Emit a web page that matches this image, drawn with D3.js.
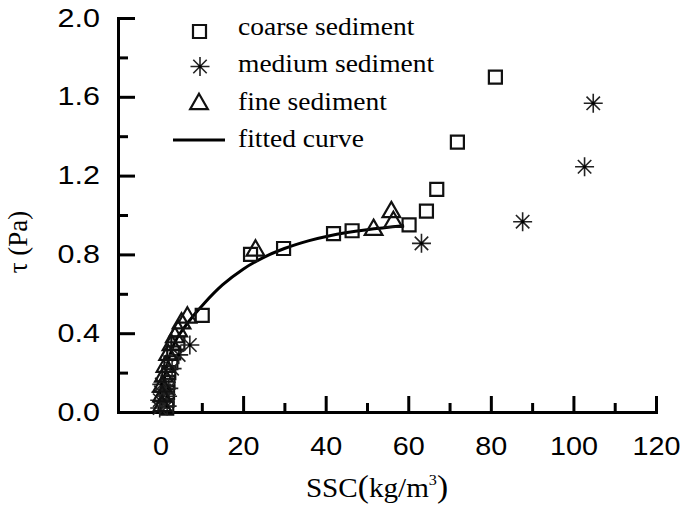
<!DOCTYPE html>
<html>
<head>
<meta charset="utf-8">
<script src="https://d3js.org/d3.v7.min.js"></script>
<style>
body { margin: 0; background: #fff; }
svg { display: block; }
.assi path, .assi line { stroke: #000; stroke-width: 3; }
.assi path { stroke-linecap: square; }
.assi text { font-family: 'Liberation Sans', Arial, sans-serif; font-size: 25px; fill: #000; }
.serif { font-family: 'Liberation Serif', 'Times New Roman', serif; fill: #000; }
</style>
</head>
<body>
<svg id="grafico" width="685" height="505"></svg>
<script>
//punti: [SSC, tau]
var coarseSediment = [[1.5, 0.02], [1.6, 0.06], [1.7, 0.1], [1.8, 0.15], [2.0, 0.2], [2.5, 0.25],
    [3.2, 0.3], [4.2, 0.35], [10.1, 0.49], [21.8, 0.8], [29.8, 0.83], [41.9, 0.905], [46.4, 0.92],
    [60.2, 0.95], [64.4, 1.02], [66.9, 1.13], [71.9, 1.37], [81.1, 1.7]];

var mediumSediment = [[-0.2, 0.02], [-0.2, 0.06], [0.1, 0.1], [0.3, 0.14], [1.6, 0.03], [1.7, 0.08],
    [2.0, 0.12], [2.8, 0.22], [4.4, 0.29], [7.1, 0.34], [63.2, 0.856], [87.7, 0.966],
    [102.7, 1.245], [104.8, 1.567]];

var fineSediment = [[0.4, 0.03], [0.4, 0.08], [0.4, 0.13], [0.8, 0.18], [1.2, 0.23], [1.85, 0.29],
    [2.66, 0.34], [3.47, 0.38], [4.28, 0.41], [5.08, 0.45], [6.5, 0.48], [23.0, 0.82],
    [51.6, 0.925], [55.9, 1.015], [56.4, 0.965]];

var fittedCurve = [[0.15, 0.02], [0.4, 0.07], [0.8, 0.14], [1.2, 0.2], [2.0, 0.27], [2.8, 0.32],
    [4.0, 0.375], [5.6, 0.425], [8.0, 0.49], [10.5, 0.55], [15.0, 0.645], [20.0, 0.725], [25.0, 0.785],
    [30.0, 0.83], [36.0, 0.87], [41.0, 0.895], [50.0, 0.925], [59.0, 0.945]];

var xMajorTicks = [0, 20, 40, 60, 80, 100, 120];
var xMinorTicks = [10, 30, 50, 70, 90, 110];
var yMajorTicks = [0.0, 0.4, 0.8, 1.2, 1.6, 2.0];
var yMinorTicks = [0.2, 0.6, 1.0, 1.4, 1.8];
var legendLabels = ['coarse sediment', 'medium sediment', 'fine sediment', 'fitted curve'];

//allargamento orizzontale dei testi, come nell'immagine originale
var stretch = 1.15;

var svg = d3.select('#grafico');

var x = d3.scaleLinear().domain([-10.3, 120]).range([118, 656]);
var y = d3.scaleLinear().domain([0, 2]).range([412, 18]);

//funzione che disegna gli assi con tacche interne
function disegnaAssi() {
    var gx = svg.append('g').attr('class', 'assi').attr('transform', 'translate(0,' + y(0) + ')');
    gx.call(d3.axisBottom(x).tickValues(xMajorTicks).tickSizeInner(-16).tickSizeOuter(0)
        .tickPadding(25).tickFormat(d3.format('d')));
    gx.selectAll('text').attr('transform', 'scale(' + stretch + ',1)');

    svg.append('g').attr('class', 'assi').attr('transform', 'translate(0,' + y(0) + ')')
        .call(d3.axisBottom(x).tickValues(xMinorTicks).tickSizeInner(-9).tickSizeOuter(0).tickFormat(''))
        .select('.domain').remove();

    var gy = svg.append('g').attr('class', 'assi').attr('transform', 'translate(' + x.range()[0] + ',0)');
    gy.call(d3.axisLeft(y).tickValues(yMajorTicks).tickSizeInner(-17).tickSizeOuter(0)
        .tickFormat(d3.format('.1f')));
    gy.selectAll('text').attr('x', -18 / 1.22).attr('transform', 'scale(1.22,1)');

    svg.append('g').attr('class', 'assi').attr('transform', 'translate(' + x.range()[0] + ',0)')
        .call(d3.axisLeft(y).tickValues(yMinorTicks).tickSizeInner(-10).tickSizeOuter(0).tickFormat(''))
        .select('.domain').remove();
}

//funzione che restituisce il percorso dell'asterisco a otto bracci
function asterisco(r) {
    var p = '';
    for (var i = 0; i < 4; i++) {
        var a = i * Math.PI / 4;
        var dx = r * Math.cos(a), dy = r * Math.sin(a);
        p += 'M' + (-dx) + ',' + (-dy) + 'L' + dx + ',' + dy;
    }
    return p;
}

var quadrato = d3.symbol().type(d3.symbolSquare).size(169);
var triangolo = d3.symbol().type(d3.symbolTriangle).size(135);

//funzione che disegna i punti delle tre serie
function disegnaPunti() {
    svg.append('g').selectAll('path').data(coarseSediment).enter().append('path')
        .attr('d', quadrato())
        .attr('transform', function(d) { return 'translate(' + x(d[0]) + ',' + y(d[1]) + ')'; })
        .attr('fill', 'none').attr('stroke', '#111').attr('stroke-width', 2.2);

    var stelle = svg.append('g').selectAll('g').data(mediumSediment).enter().append('g')
        .attr('transform', function(d) { return 'translate(' + x(d[0]) + ',' + y(d[1]) + ')'; });
    stelle.append('path').attr('d', asterisco(9.5)).attr('stroke', '#222').attr('stroke-width', 1.6);
    stelle.append('circle').attr('r', 1.6).attr('fill', '#000');

    svg.append('g').selectAll('path').data(fineSediment).enter().append('path')
        .attr('d', triangolo())
        .attr('transform', function(d) { return 'translate(' + x(d[0]) + ',' + y(d[1]) + ')'; })
        .attr('fill', 'none').attr('stroke', '#111').attr('stroke-width', 2.2);
}

//funzione che disegna la curva interpolante
function disegnaCurva() {
    var linea = d3.line()
        .x(function(d) { return x(d[0]); })
        .y(function(d) { return y(d[1]); })
        .curve(d3.curveMonotoneX);

    svg.append('path').datum(fittedCurve)
        .attr('d', linea)
        .attr('fill', 'none').attr('stroke', '#000').attr('stroke-width', 3);
}

//funzione che disegna la legenda
function disegnaLegenda() {
    var baseline = [35, 72, 110, 147];
    var g = svg.append('g');

    g.append('path').attr('d', quadrato()).attr('transform', 'translate(199.5,31.5)')
        .attr('fill', 'none').attr('stroke', '#111').attr('stroke-width', 2.2);
    g.append('path').attr('d', asterisco(9.5)).attr('transform', 'translate(200,66.5)')
        .attr('stroke', '#222').attr('stroke-width', 1.6);
    g.append('circle').attr('cx', 200).attr('cy', 66.5).attr('r', 1.6);
    g.append('path').attr('d', triangolo()).attr('transform', 'translate(199,104)')
        .attr('fill', 'none').attr('stroke', '#111').attr('stroke-width', 2.2);
    g.append('line').attr('x1', 173).attr('x2', 225).attr('y1', 140).attr('y2', 140)
        .attr('stroke', '#000').attr('stroke-width', 3);

    g.selectAll('text').data(legendLabels).enter().append('text')
        .attr('class', 'serif')
        .attr('transform', function(d, i) { return 'translate(238,' + baseline[i] + ') scale(1.1,1)'; })
        .style('font-size', '25px')
        .text(function(d) { return d; });
}

//funzione che disegna i titoli degli assi
function disegnaTitoli() {
    var tx = svg.append('text').attr('class', 'serif')
        .attr('transform', 'translate(377,497) scale(1.08,1)')
        .attr('text-anchor', 'middle')
        .style('font-size', '27px');
    tx.append('tspan').text('SSC');
    tx.append('tspan').style('font-size', '31px').text('(');
    tx.append('tspan').text('kg/m');
    tx.append('tspan').attr('dy', -12).style('font-size', '15px').text('3');
    tx.append('tspan').attr('dy', 12).style('font-size', '31px').text(')');

    svg.append('text').attr('class', 'serif')
        .attr('transform', 'translate(27,242) rotate(-90)')
        .attr('text-anchor', 'middle')
        .style('font-size', '27px')
        .text('τ (Pa)');
}

disegnaAssi();
disegnaCurva();
disegnaPunti();
disegnaLegenda();
disegnaTitoli();
</script>
</body>
</html>
